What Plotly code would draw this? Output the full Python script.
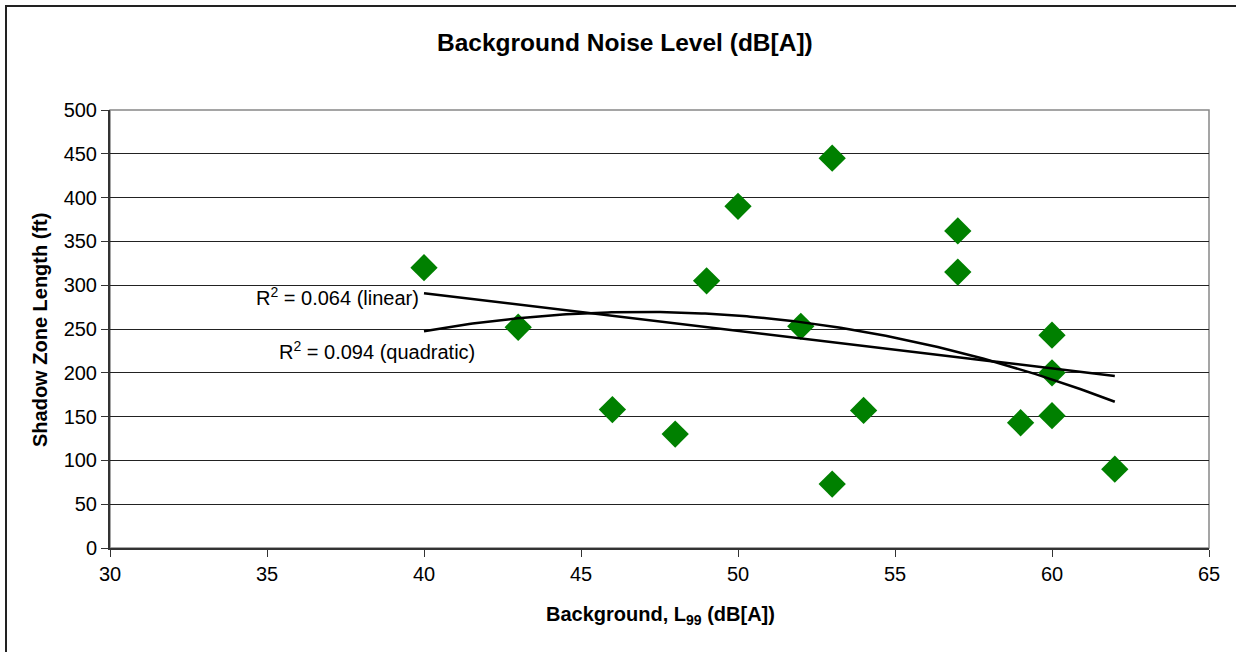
import numpy as np
import plotly.graph_objects as go

# Data
background_l99 = [40, 43, 46, 48, 49, 50, 52, 53, 53, 54, 57, 57, 59, 60, 60, 60, 62]
shadow_zone_ft = [320, 252, 158, 130, 305, 390, 253, 445, 73, 157, 362, 315, 143, 243, 200, 151, 90]

x_ticks = [30, 35, 40, 45, 50, 55, 60, 65]
y_ticks = [0, 50, 100, 150, 200, 250, 300, 350, 400, 450, 500]

x = np.array(background_l99, dtype=float)
y = np.array(shadow_zone_ft, dtype=float)

# Trendlines (regressions of the data)
xs = np.linspace(x.min(), x.max(), 200)
lin = np.polyfit(x, y, 1)
quad = np.polyfit(x, y, 2)

FONT = "Liberation Sans, Arial, sans-serif"

fig = go.Figure()
fig.add_trace(go.Scatter(x=x, y=y, mode="markers",
                         marker=dict(symbol="diamond", size=21, color="#008000",
                                     line=dict(width=0)),
                         showlegend=False))
fig.add_trace(go.Scatter(x=xs, y=np.polyval(lin, xs), mode="lines",
                         line=dict(color="black", width=2.5), showlegend=False))
fig.add_trace(go.Scatter(x=xs, y=np.polyval(quad, xs), mode="lines",
                         line=dict(color="black", width=2.5), showlegend=False))

W, H = 1236, 652
L, R, T, B = 110, 27, 110, 104
pw, ph = W - L - R, H - T - B

def px2paper(px, py):
    return (px - L) / pw, 1 - (py - T) / ph

x0, y0 = px2paper(6, 6)
x1, y1 = px2paper(1240, 660)

fig.add_shape(type="rect", xref="paper", yref="paper", x0=x0, y0=y1, x1=x1, y1=y0,
              line=dict(color="#222222", width=2), layer="below")
# plot area border (top/right)
fig.add_shape(type="rect", xref="paper", yref="paper", x0=0, y0=0, x1=1, y1=1,
              line=dict(color="#888888", width=1.5), layer="below")

lx, ly = px2paper(421, 296)
qx, qy = px2paper(377, 350)
fig.add_annotation(text="R<sup>2</sup> = 0.064 (linear)", x=lx, y=ly, xref="paper", yref="paper",
                   showarrow=False, font=dict(family=FONT, size=20, color="black"),
                   xanchor="right", yanchor="middle")
fig.add_annotation(text="R<sup>2</sup> = 0.094 (quadratic)", x=qx, y=qy, xref="paper", yref="paper",
                   showarrow=False, font=dict(family=FONT, size=20, color="black"),
                   xanchor="center", yanchor="middle")

tx, ty = px2paper(625, 43)
fig.add_annotation(text="<b>Background Noise Level (dB[A])</b>", x=tx, y=ty,
                   xref="paper", yref="paper", showarrow=False,
                   font=dict(family=FONT, size=24.5, color="black"),
                   xanchor="center", yanchor="middle")

xtx, xty = px2paper(660, 615)
fig.add_annotation(text="<b>Background, L<sub>99</sub> (dB[A])</b>", x=xtx, y=xty,
                   xref="paper", yref="paper", showarrow=False,
                   font=dict(family=FONT, size=20, color="black"),
                   xanchor="center", yanchor="middle")
ytx, yty = px2paper(40, 330)
fig.add_annotation(text="<b>Shadow Zone Length (ft)</b>", x=ytx, y=yty, textangle=-90,
                   xref="paper", yref="paper", showarrow=False,
                   font=dict(family=FONT, size=20, color="black"),
                   xanchor="center", yanchor="middle")

fig.update_layout(
    width=W, height=H,
    margin=dict(l=L, r=R, t=T, b=B, autoexpand=False),
    paper_bgcolor="white", plot_bgcolor="white",
    font=dict(family=FONT, size=20, color="black"),
    xaxis=dict(range=[30, 65], tickvals=x_ticks, showgrid=False, zeroline=False,
               showline=True, linecolor="#333333", linewidth=2,
               ticks="outside", ticklen=7, tickcolor="#333333",
               tickfont=dict(size=20), automargin=False),
    yaxis=dict(range=[0, 500], tickvals=y_ticks, showgrid=True, gridcolor="#222222",
               gridwidth=1, zeroline=False,
               showline=True, linecolor="#333333", linewidth=2,
               ticks="outside", ticklen=7, tickcolor="#333333",
               tickfont=dict(size=20), automargin=False),
)

fig.write_html("out.html")
